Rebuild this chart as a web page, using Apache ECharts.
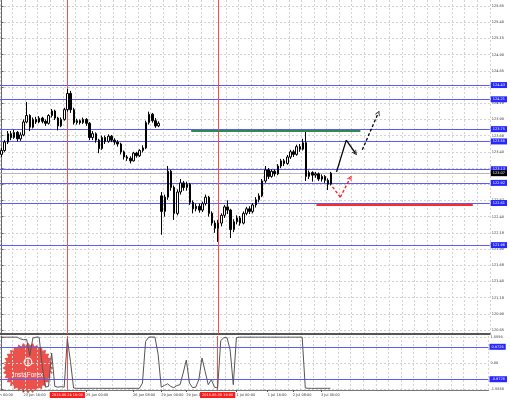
<!DOCTYPE html>
<html>
<head>
<meta charset="utf-8">
<script src="https://cdn.jsdelivr.net/npm/echarts@6/dist/echarts.min.js"></script>
<style>
  html, body { margin: 0; padding: 0; background: #fff; }
  #chart { width: 510px; height: 400px; }
</style>
</head>
<body>
<div id="chart"></div>
<script>
// bar slots on the time axis (2h bars, right part is empty future space)
const SLOTS = 156;

const opens = [
  123.36, 123.42, 123.55, 123.68, 123.62, 123.70, 123.60, 123.66, 123.86, 123.96,
  123.78, 123.90, 123.86, 123.92, 123.87, 123.84, 123.96, 124.03, 123.92, 123.80,
  123.90, 124.05, 124.30, 124.05, 123.85, 123.88, 123.85, 123.90, 123.84, 123.62,
  123.68, 123.58, 123.45, 123.62, 123.56, 123.64, 123.58, 123.55, 123.52, 123.40,
  123.32, 123.30, 123.26, 123.38, 123.34, 123.42, 123.46, 123.85, 123.98, 123.88,
  123.80, 122.72, 122.48, 122.70, 123.10, 122.85, 122.45, 122.78, 122.92, 122.85,
  122.90, 122.62, 122.52, 122.56, 122.50, 122.60, 122.70, 122.45, 122.30, 122.22,
  122.30, 122.42, 122.55, 122.50, 122.20, 122.32, 122.38, 122.30, 122.45, 122.52,
  122.48, 122.58, 122.66, 122.72, 122.95, 123.12, 123.02, 123.10, 123.06, 123.18,
  123.26, 123.22, 123.32, 123.40, 123.36, 123.48, 123.44, 123.54, 123.02, 123.08,
  123.04, 123.06, 122.98, 123.02, 122.96, 122.90
];
const closes = [
  123.42, 123.55, 123.68, 123.62, 123.70, 123.60, 123.66, 123.86, 123.96, 123.78,
  123.90, 123.86, 123.92, 123.87, 123.84, 123.96, 124.03, 123.92, 123.80, 123.90,
  124.05, 124.30, 124.05, 123.85, 123.88, 123.85, 123.90, 123.84, 123.62, 123.68,
  123.58, 123.45, 123.62, 123.56, 123.64, 123.58, 123.55, 123.52, 123.40, 123.32,
  123.30, 123.26, 123.38, 123.34, 123.42, 123.46, 123.85, 123.98, 123.88, 123.80,
  123.84, 122.48, 122.70, 123.10, 122.85, 122.45, 122.78, 122.92, 122.85, 122.90,
  122.62, 122.52, 122.56, 122.50, 122.60, 122.70, 122.45, 122.30, 122.22, 122.30,
  122.42, 122.55, 122.50, 122.20, 122.32, 122.38, 122.30, 122.45, 122.52, 122.48,
  122.58, 122.66, 122.72, 122.95, 123.12, 123.02, 123.10, 123.06, 123.18, 123.26,
  123.22, 123.32, 123.40, 123.36, 123.48, 123.44, 123.54, 123.02, 123.08, 123.04,
  123.06, 122.98, 123.02, 122.96, 122.90, 123.07
];
const lows = [
  123.32, 123.40, 123.52, 123.58, 123.60, 123.56, 123.57, 123.64, 123.84, 123.72,
  123.76, 123.83, 123.84, 123.84, 123.80, 123.82, 123.93, 123.89, 123.73, 123.78,
  123.88, 124.02, 124.00, 123.82, 123.82, 123.82, 123.83, 123.80, 123.58, 123.58,
  123.54, 123.38, 123.43, 123.52, 123.54, 123.55, 123.51, 123.48, 123.36, 123.28,
  123.26, 123.22, 123.25, 123.31, 123.32, 123.39, 123.44, 123.82, 123.85, 123.77,
  123.78, 122.12, 122.40, 122.66, 122.80, 122.35, 122.42, 122.74, 122.80, 122.80,
  122.58, 122.45, 122.48, 122.46, 122.47, 122.57, 122.40, 122.26, 122.15, 122.01,
  122.25, 122.38, 122.44, 122.07, 122.16, 122.28, 122.26, 122.28, 122.42, 122.44,
  122.45, 122.54, 122.62, 122.70, 122.92, 122.98, 123.00, 123.02, 123.04, 123.15,
  123.18, 123.20, 123.29, 123.32, 123.34, 123.40, 123.42, 122.95, 122.98, 122.94,
  123.00, 122.95, 122.94, 122.92, 122.81, 122.88
];
const highs = [
  123.46, 123.58, 123.72, 123.72, 123.74, 123.72, 123.70, 123.90, 124.17, 123.98,
  123.93, 123.94, 123.95, 123.94, 123.90, 123.98, 124.06, 124.05, 123.94, 123.93,
  124.08, 124.37, 124.34, 124.08, 123.91, 123.90, 123.93, 123.92, 123.86, 123.72,
  123.70, 123.60, 123.65, 123.65, 123.67, 123.66, 123.61, 123.58, 123.54, 123.42,
  123.35, 123.33, 123.40, 123.40, 123.44, 123.50, 123.88, 124.02, 124.00, 123.92,
  123.87, 122.78, 122.74, 123.18, 123.12, 122.88, 122.82, 122.98, 122.95, 122.94,
  122.92, 122.65, 122.60, 122.60, 122.63, 122.74, 122.72, 122.48, 122.34, 122.35,
  122.45, 122.58, 122.65, 122.52, 122.36, 122.42, 122.41, 122.48, 122.55, 122.56,
  122.61, 122.70, 122.76, 122.98, 123.18, 123.15, 123.13, 123.13, 123.21, 123.29,
  123.29, 123.35, 123.43, 123.43, 123.51, 123.52, 123.60, 123.73, 123.11, 123.10,
  123.09, 123.08, 123.05, 123.04, 122.99, 123.09
];

// oscillator in the lower window
const indicator = [
  1.55, 1.55, 1.55, 1.55, 1.55, 1.55, 1.45, 1.40, 1.42, 0.45,
  1.50, 1.55, 1.55, -0.20, -1.45, -1.40, 0.60, -1.40, -1.45, -1.42,
  -1.45, 1.45, 0.10, -1.50, -1.52, -1.52, -1.52, -1.52, -1.52, -1.52,
  -1.52, -1.52, -1.52, -1.52, -1.52, -1.52, -1.52, -1.52, -1.52, -1.52,
  -1.52, -1.52, -1.52, -1.52, -1.52, -1.20, 1.30, 1.55, 1.56, 1.55,
  0.50, -1.45, -1.35, -1.25, -1.40, -1.48, -1.35, -1.30, -0.60, 0.18,
  -1.20, -1.48, -1.45, -1.00, 0.30, -0.50, -1.30, -1.00, -1.45, -1.50,
  1.35, 1.52, 1.52, 0.78, -1.30, 1.52, 1.55, 1.55, 1.55, 1.55,
  1.55, 1.55, 1.55, 1.55, 1.55, 1.55, 1.55, 1.55, 1.55, 1.55,
  1.55, 1.55, 1.55, 1.55, 1.55, 1.55, 1.55, -1.50, -1.52, -1.52,
  -1.52, -1.52, -1.52, -1.52, -1.52, -1.52
];

// price scale
const PRICE_MIN = 120.5883;
const PRICE_MAX = 125.7426;
const priceTicks = [125.65, 125.40, 125.15, 124.90, 124.65, 124.40, 124.15, 123.90, 123.65, 123.40,
  123.15, 122.90, 122.65, 122.40, 122.15, 121.90, 121.65, 121.40, 121.15, 120.90, 120.65];
const priceTickLabels = ['125.65', '125.40', '125.15', '124.90', '124.65', '124.40', '124.18', '123.90', '123.68', '123.40',
  '123.18', '122.90', '122.67', '122.40', '122.18', '121.90', '121.68', '121.40', '121.18', '120.90', '120.65'];
const IND_MIN = -1.62;
const IND_MAX = 1.62;
const indTicks = [1.5556, 0, -1.5556];
const indTickLabels = ['1.5556', '0.00', '-1.5556'];

// horizontal levels drawn on the chart
const levels = [124.43, 124.21, 123.75, 123.56, 123.13, 122.92, 122.61, 121.96];
const bidPrice = [123.07];
const indLevels = [0.9726, -0.9726];

// vertical markers
const redLineIdx = [21, 69];
const redLineText = ['2015.06.24 16:00', '2015.06.30 16:00'];

// time axis labels
const timeTickIdx = [7, 27, 42, 51, 59, 75, 85, 93, 102];
const timeTickText = ['23 Jun 16:00', '25 Jun 00:00', '26 Jun 08:00', '29 Jun 00:00', '29 Jun 16:00',
  '1 Jul 00:00', '1 Jul 16:00', '2 Jul 08:00', '3 Jul 00:00'];

// hand drawn objects, [slot, price]
const greenLevel = [[60.4, 123.72], [114.3, 123.72]];
const redLevel = [[100.3, 122.58], [150.1, 122.58]];
const blackPath = [[106.7, 123.09], [109.8, 123.58], [112.7, 123.38]];
const blackDash = [[114.9, 123.43], [120.0, 124.00]];
const redPath = [[105.4, 122.86], [107.9, 122.70], [111.1, 123.00]];

const chart = echarts.init(document.getElementById('chart'));

const candles = opens.map((o, i) => [o, closes[i], lows[i], highs[i]]);
const slots = Array.from({ length: SLOTS }, (_, i) => i);
const X0 = -0.5;
const X1 = SLOTS - 0.5;

const FONT = 'DejaVu Sans';
const TXT = { fontSize: 3.5, fontFamily: FONT, color: '#333' };
const dotted = { show: true, interval: 3, lineStyle: { color: '#d2d2d2', type: [2, 2], width: 1 } };
const chevron = 'path://M0,10 L5,0 L10,10 L8.4,10 L5,3.2 L1.6,10 Z';
const BLUE = '#5a5aff';
const BOX_BLUE = '#2626ff';
const VRED = '#ff4a4a';

const pick = (ticks, labels) => (v) => labels[ticks.findIndex((t) => Math.abs(t - v) < 1e-6)] || '';

// an extra axis whose split lines draw level lines and whose labels are the value boxes
function levelAxis(gridIndex, min, max, values, lineColor, boxColor, fmt) {
  return {
    type: 'value', gridIndex, position: 'right', min, max, z: 1,
    axisLine: { show: false },
    axisTick: { show: false, customValues: values },
    axisLabel: {
      customValues: values, formatter: fmt, margin: 1,
      backgroundColor: boxColor, color: '#fff', fontSize: 3.5, fontFamily: FONT,
      padding: [1, 2], lineHeight: 4,
    },
    splitLine: { show: true, lineStyle: { color: lineColor, width: 1, type: 'solid', opacity: 1 } },
  };
}

function vMarkAxis(gridIndex, withLabels) {
  return {
    type: 'value', gridIndex, min: X0, max: X1, position: 'bottom', z: 1,
    axisLine: { show: false },
    axisTick: { show: false, customValues: redLineIdx },
    axisLabel: withLabels ? {
      customValues: redLineIdx, margin: 2,
      formatter: pick(redLineIdx, redLineText),
      backgroundColor: '#ff1a1a', color: '#fff', fontSize: 3.5, fontFamily: FONT,
      padding: [1, 2], lineHeight: 4,
    } : { show: false },
    splitLine: { show: true, lineStyle: { color: VRED, width: 1, type: 'solid', opacity: 1 } },
  };
}

function drawSeries(items, symbol) {
  return {
    type: 'lines', coordinateSystem: 'cartesian2d', xAxisIndex: 2, yAxisIndex: 0,
    symbol: symbol || ['none', 'none'], symbolSize: [6, 5], silent: true, z: 6,
    lineStyle: { opacity: 1 }, data: items,
  };
}

// InstaForex badge
const logoPts = [];
for (let k = 0; k < 64; k++) {
  const r = k % 2 ? 22.5 : 25.5;
  const a = (Math.PI * k) / 32;
  logoPts.push([28 + r * Math.cos(a), 368 + r * Math.sin(a)]);
}

const option = {
  animation: false,
  backgroundColor: '#fff',
  grid: [
    { left: 0, right: 18, top: 0, height: 334 },
    { left: 0, right: 18, top: 336, height: 54 },
  ],
  xAxis: [
    {
      type: 'category', gridIndex: 0, data: slots,
      axisLine: { show: true, onZero: false, lineStyle: { color: '#555', width: 2 } },
      axisTick: { show: false }, axisLabel: { show: false },
      splitLine: dotted,
    },
    {
      type: 'category', gridIndex: 1, data: slots,
      axisLine: { show: true, onZero: false, lineStyle: { color: '#777' } },
      axisTick: {
        show: true, alignWithLabel: true, length: 2,
        interval: (i) => timeTickIdx.includes(i), lineStyle: { color: '#555' },
      },
      axisLabel: {
        ...TXT, align: 'left', margin: 3,
        interval: (i) => timeTickIdx.includes(i),
        formatter: (v, i) => timeTickText[timeTickIdx.indexOf(i)] || '',
      },
      splitLine: dotted,
    },
    vMarkAxis(0, false),
    vMarkAxis(1, true),
  ],
  yAxis: [
    {
      type: 'value', gridIndex: 0, position: 'right', min: PRICE_MIN, max: PRICE_MAX,
      axisLine: { show: true, lineStyle: { color: '#666' } },
      axisTick: { show: true, length: 2, customValues: priceTicks, lineStyle: { color: '#666' } },
      axisLabel: { ...TXT, margin: 2, customValues: priceTicks, formatter: pick(priceTicks, priceTickLabels) },
      splitLine: { show: true, lineStyle: { color: '#d2d2d2', type: [2, 2] } },
    },
    {
      type: 'value', gridIndex: 1, position: 'right', min: IND_MIN, max: IND_MAX,
      axisLine: { show: true, lineStyle: { color: '#666' } },
      axisTick: { show: true, length: 2, customValues: indTicks, lineStyle: { color: '#666' } },
      axisLabel: { ...TXT, margin: 2, customValues: indTicks, formatter: pick(indTicks, indTickLabels) },
      splitLine: { show: true, lineStyle: { color: '#d2d2d2', type: [2, 2] } },
    },
    levelAxis(0, PRICE_MIN, PRICE_MAX, levels, BLUE, BOX_BLUE, (v) => v.toFixed(2)),
    levelAxis(0, PRICE_MIN, PRICE_MAX, bidPrice, '#b8b8b8', '#000', (v) => v.toFixed(2)),
    levelAxis(1, IND_MIN, IND_MAX, indLevels, BLUE, BOX_BLUE, (v) => v.toFixed(4)),
  ],
  graphic: [
    {
      type: 'group', z: 0, silent: true,
      children: [
        { type: 'polygon', shape: { points: logoPts }, style: { fill: '#e8433c', opacity: 0.92 } },
        { type: 'circle', shape: { cx: 28, cy: 362, r: 3.8 }, style: { fill: 'none', stroke: '#fff', lineWidth: 1.2 } },
        { type: 'line', shape: { x1: 28, y1: 359.5, x2: 28, y2: 366 }, style: { stroke: '#fff', lineWidth: 1.2 } },
        {
          type: 'text', x: 28, y: 375.5,
          style: { text: 'InstaForex', fill: '#fff', font: '6.5px "Liberation Sans"', textAlign: 'center', textVerticalAlign: 'middle' },
        },
      ],
    },
    {
      type: 'text', x: 13, y: 395, z: 3,
      style: { text: '23 Jun 00:00', fill: '#333', font: '3.5px "DejaVu Sans"', textAlign: 'right', textVerticalAlign: 'middle' },
    },
  ],
  series: [
    {
      type: 'candlestick', xAxisIndex: 0, yAxisIndex: 0,
      data: candles, barWidth: 2, clip: false, z: 5,
      itemStyle: { color: '#fff', color0: '#000', borderColor: '#000', borderColor0: '#000', borderWidth: 1 },
    },
    {
      type: 'line', xAxisIndex: 1, yAxisIndex: 1,
      data: indicator, symbol: 'none', clip: false, z: 5,
      lineStyle: { color: '#555', width: 1 },
    },
    // hand drawn trend lines and arrows
    drawSeries([
      { coords: greenLevel, lineStyle: { color: '#2f8a4e', width: 2, type: 'solid', opacity: 1 } },
      { coords: redLevel, lineStyle: { color: '#ff2a2a', width: 2, type: 'solid', opacity: 1 } },
      { coords: blackPath.slice(0, 2), lineStyle: { color: '#000', width: 1.3, type: 'solid', opacity: 1 } },
      { coords: redPath.slice(0, 2), lineStyle: { color: '#ff1a1a', width: 1.3, type: [3, 2], opacity: 1 } },
    ]),
    drawSeries([
      { coords: blackPath.slice(1), lineStyle: { color: '#000', width: 1.3, type: 'solid', opacity: 1 } },
      { coords: blackDash, lineStyle: { color: '#000', width: 1.3, type: [3, 2], opacity: 1 } },
      { coords: redPath.slice(1), lineStyle: { color: '#ff1a1a', width: 1.3, type: [3, 2], opacity: 1 } },
    ], ['none', chevron]),
  ],
};

chart.setOption(option);
</script>
</body>
</html>
